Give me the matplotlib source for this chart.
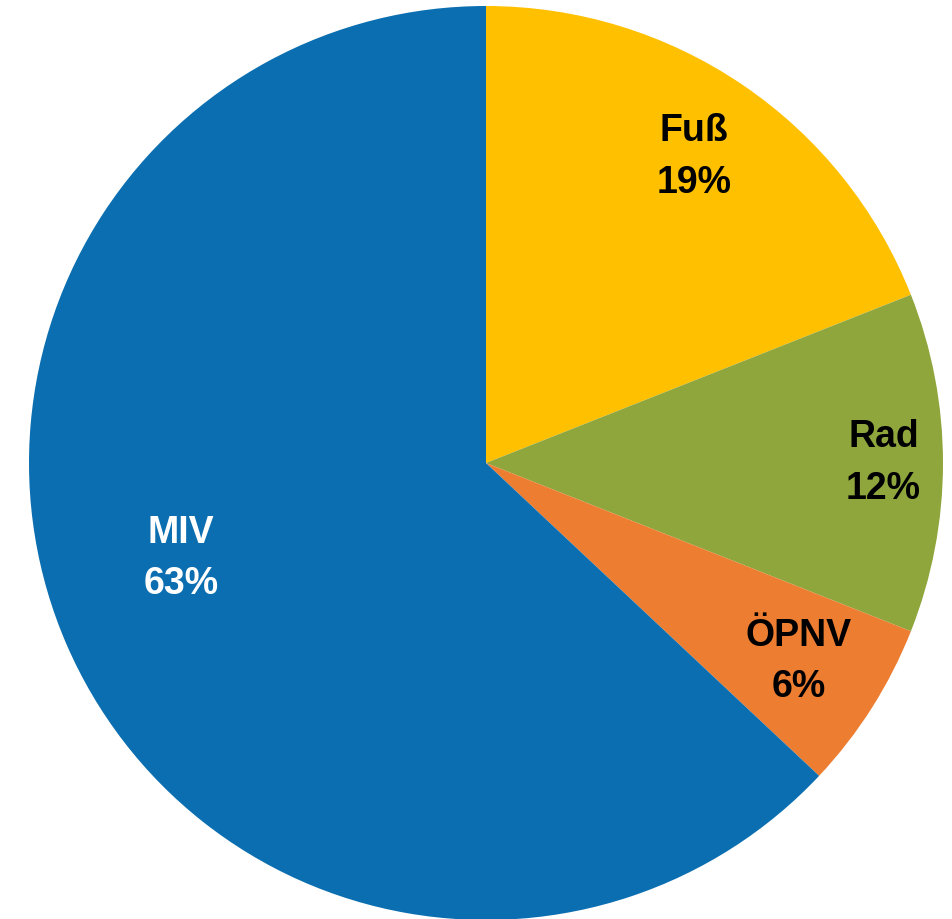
import matplotlib
matplotlib.use("Agg")
import numpy as np
import matplotlib.pyplot as plt

plt.rcParams['font.family'] = ['Liberation Sans', 'DejaVu Sans']

# modal split values
labels = ['Fuß', 'Rad', 'ÖPNV', 'MIV']
shares = [19, 12, 6, 63]
colors = ['#FFC000', '#8FA63C', '#ED7D31', '#0A6EB0']
text_colors = ['black', 'black', 'black', 'white']
label_dist = [0.81, 0.87, 0.81, 0.70]
label_shift = [0, 0, 0, -6]  # degrees

fig = plt.figure(figsize=(9.53, 9.19), dpi=100)
ax = fig.add_axes([29 / 953, -1 / 919, 914 / 953, 914 / 919])

wedges, _ = ax.pie(shares, colors=colors, startangle=90, counterclock=False,
                   radius=1.0, wedgeprops=dict(linewidth=0))

for w, lab, val, tc, d, sh in zip(wedges, labels, shares, text_colors, label_dist, label_shift):
    ang = np.deg2rad((w.theta1 + w.theta2) / 2 + sh)
    ax.text(d * np.cos(ang), d * np.sin(ang), f"{lab}\n{val}%",
            ha='center', va='center', fontsize=27, fontweight='bold',
            color=tc, linespacing=1.55)

ax.set_xlim(-1, 1)
ax.set_ylim(-1, 1)
ax.set_aspect('equal')
ax.axis('off')

fig.savefig('out.png', dpi=100)
